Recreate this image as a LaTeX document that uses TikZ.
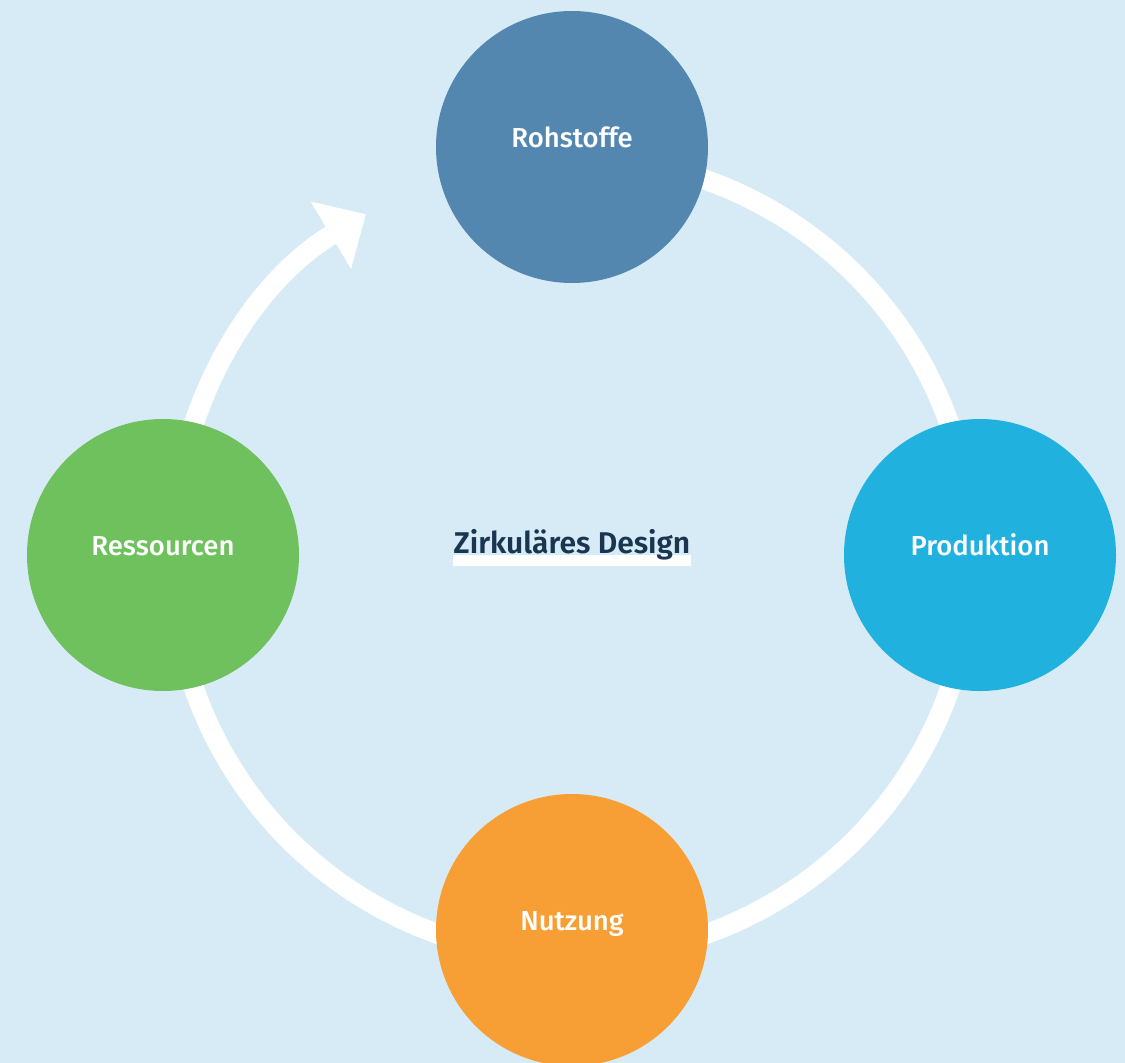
\documentclass[tikz,border=0pt]{standalone}
\usepackage{fontspec}
\setmainfont{Fira Sans}[Ligatures=NoCommon]
\newfontfamily\labelfont{Fira Sans Medium}[Ligatures=NoCommon]
\newfontfamily\titlefont{Fira Sans SemiBold}[Ligatures=NoCommon]
\usetikzlibrary{arrows.meta}
\definecolor{bg}{HTML}{D6EBF6}
\definecolor{rohc}{HTML}{5387B0}
\definecolor{prodc}{HTML}{21B1DE}
\definecolor{nutzc}{HTML}{F79E34}
\definecolor{ressc}{HTML}{6FC15E}
\definecolor{navy}{HTML}{183651}
\begin{document}
\begin{tikzpicture}[x=1pt,y=1pt,
  stage/.style={circle, inner sep=0pt, minimum size=272pt},
  stagetext/.style={anchor=base, text=white, inner sep=0pt, font=\fontsize{27.5}{30}\labelfont},
  ring/.style={white, line width=20pt}]
% canvas
\fill[bg] (0,0) rectangle (1125,-1063);
\useasboundingbox (0,0) rectangle (1125,-1063);
\coordinate (hub) at (572,-557);
% cycle ring, ending in an arrow that points at the first stage
\draw[ring, -{Triangle[width=76pt,length=41pt]}]
  ([shift={(hub)}]450:400) arc[start angle=450, end angle=121, radius=400];
% stages
\node[stage, fill=rohc]  (roh)  at (572,-147) {};
\node[stage, fill=prodc] (prod) at (980,-555) {};
\node[stage, fill=nutzc] (nutz) at (572,-930) {};
\node[stage, fill=ressc] (ress) at (163,-555) {};
\node[stagetext] (roh-t)  at (roh.center)  {Rohstoffe};
\node[stagetext] (prod-t) at (prod.center) {Produktion};
\node[stagetext] (nutz-t) at (nutz.center) {Nutzung};
\node[stagetext] (ress-t) at (ress.center) {Ressourcen};
% centre title with white underline bar
\node[anchor=base, inner sep=0pt, font=\fontsize{30}{33}\titlefont] (title) at (572,-553) {\phantom{Zirkuläres Design}};
\fill[white] ([yshift=-2pt]title.base west) rectangle ([yshift=-13pt]title.base east);
\node[anchor=base, inner sep=0pt, text=navy, font=\fontsize{30}{33}\titlefont] (title-t) at (title.base) {Zirkuläres Design};
\end{tikzpicture}
\end{document}
